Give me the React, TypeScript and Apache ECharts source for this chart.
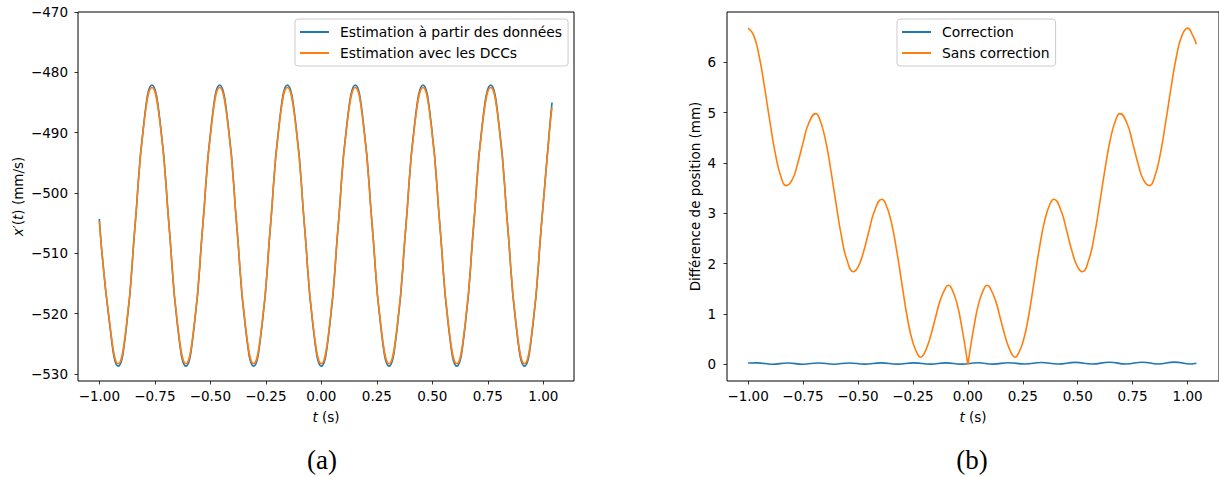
import React, { useEffect, useRef } from "react";
import * as echarts from "echarts";

// ---------- (a) velocity estimates ----------
const tA = [-1.0, -0.953, -0.915, -0.877, -0.839, -0.801, -0.763, -0.724, -0.686, -0.648, -0.610, -0.572, -0.534, -0.496, -0.458, -0.419, -0.381, -0.343, -0.305, -0.267, -0.229, -0.191, -0.153, -0.114, -0.076, -0.038, 0.0, 0.038, 0.076, 0.114, 0.153, 0.191, 0.229, 0.267, 0.305, 0.343, 0.381, 0.419, 0.458, 0.496, 0.534, 0.572, 0.610, 0.648, 0.686, 0.724, 0.763, 0.801, 0.839, 0.877, 0.915, 0.953, 0.991, 1.029, 1.039];
const estData = [-504.3, -521.9,
  -528.7, -521.9, -505.4, -488.9, -482.1, -488.9, -505.4, -521.9,
  -528.7, -521.9, -505.4, -488.9, -482.1, -488.9, -505.4, -521.9,
  -528.7, -521.9, -505.4, -488.9, -482.1, -488.9, -505.4, -521.9,
  -528.7, -521.9, -505.4, -488.9, -482.1, -488.9, -505.4, -521.9,
  -528.7, -521.9, -505.4, -488.9, -482.1, -488.9, -505.4, -521.9,
  -528.7, -521.9, -505.4, -488.9, -482.1, -488.9, -505.4, -521.9,
  -528.7, -521.9, -505.4, -488.9, -485.0];
const dccData = [-504.6, -521.6,
  -528.3, -521.6, -505.4, -489.2, -482.5, -489.2, -505.4, -521.6,
  -528.3, -521.6, -505.4, -489.2, -482.5, -489.2, -505.4, -521.6,
  -528.3, -521.6, -505.4, -489.2, -482.5, -489.2, -505.4, -521.6,
  -528.3, -521.6, -505.4, -489.2, -482.5, -489.2, -505.4, -521.6,
  -528.3, -521.6, -505.4, -489.2, -482.5, -489.2, -505.4, -521.6,
  -528.3, -521.6, -505.4, -489.2, -482.5, -489.2, -505.4, -521.6,
  -528.3, -521.6, -505.4, -489.2, -485.8];

// ---------- (b) position differences ----------
const tSans = [-1.0, -0.975, -0.95, -0.925, -0.9, -0.875, -0.85, -0.827, -0.8, -0.775, -0.75, -0.725, -0.692, -0.675, -0.65, -0.625, -0.6, -0.575, -0.55, -0.521, -0.5, -0.475, -0.45, -0.425, -0.391, -0.375, -0.35, -0.325, -0.3, -0.275, -0.25, -0.225, -0.216, -0.2, -0.175, -0.15, -0.125, -0.1, -0.088, -0.075, -0.05, -0.025, -0.0125, -0.005,
  0.0, 0.005, 0.0125, 0.025, 0.05, 0.075, 0.088, 0.1, 0.125, 0.15, 0.175, 0.2, 0.216, 0.225, 0.25, 0.275, 0.3, 0.325, 0.35, 0.375, 0.391, 0.425, 0.45, 0.475, 0.5, 0.521, 0.55, 0.575, 0.6, 0.625, 0.65, 0.675, 0.692, 0.725, 0.75, 0.775, 0.8, 0.827, 0.85, 0.875, 0.9, 0.925, 0.95, 0.975, 1.0, 1.025, 1.04];
const sansData = [6.68, 6.54, 6.13, 5.50, 4.80, 4.16, 3.72, 3.55, 3.66, 3.98, 4.40, 4.78, 4.98, 4.88, 4.50, 3.90, 3.20, 2.54, 2.07, 1.84, 1.93, 2.23, 2.65, 3.04, 3.28, 3.20, 2.86, 2.29, 1.60, 0.92, 0.43, 0.17, 0.14, 0.20, 0.48, 0.88, 1.28, 1.53, 1.57, 1.52, 1.22, 0.68, 0.35, 0.14,
  0.0, 0.14, 0.35, 0.68, 1.22, 1.52, 1.57, 1.53, 1.28, 0.88, 0.48, 0.20, 0.14, 0.17, 0.43, 0.92, 1.60, 2.29, 2.86, 3.20, 3.28, 3.04, 2.65, 2.23, 1.93, 1.84, 2.07, 2.54, 3.20, 3.90, 4.50, 4.88, 4.98, 4.78, 4.40, 3.98, 3.66, 3.55, 3.72, 4.16, 4.80, 5.50, 6.13, 6.54, 6.68, 6.52, 6.36];

const tCorr = [-1.0, -0.96, -0.89, -0.82, -0.75, -0.68, -0.61, -0.54, -0.47, -0.395, -0.32, -0.245, -0.17, -0.1, -0.03, 0.045, 0.115, 0.185, 0.26, 0.335, 0.41, 0.49, 0.565, 0.645, 0.72, 0.795, 0.865, 0.94, 1.015, 1.04];
const corrData = [0.025, 0.028, 0.002, 0.026, 0.002, 0.027, 0.002, 0.027, 0.003, 0.028, 0.003, 0.028, 0.003, 0.028, 0.004, 0.030, 0.004, 0.032, 0.005, 0.035, 0.005, 0.038, 0.006, 0.040, 0.006, 0.042, 0.006, 0.044, 0.006, 0.02];

const xTicks = [-1, -0.75, -0.5, -0.25, 0, 0.25, 0.5, 0.75, 1];
const yTicksA = [-530, -520, -510, -500, -490, -480, -470];
const yTicksB = [0, 1, 2, 3, 4, 5, 6];

const FONT = "DejaVu Sans";
const FS = 13.5;
const BLUE = "#1f77b4";
const ORANGE = "#ff7f0e";

const fmtX = (v: number) => (v < 0 ? "\u2212" : "") + Math.abs(v).toFixed(2);
const fmtY = (v: number) => (v < 0 ? "\u2212" : "") + String(Math.abs(v));

function makeX(gridIndex: number, min: number, max: number) {
  return {
    type: "value",
    gridIndex,
    min,
    max,
    axisLine: { show: false, onZero: false },
    splitLine: { show: false },
    axisTick: { show: true, customValues: xTicks, length: 3.5, lineStyle: { color: "#000", width: 0.8 } },
    axisLabel: { customValues: xTicks, formatter: fmtX, color: "#000", fontFamily: FONT, fontSize: FS, margin: 8 },
    name: "{i|t} (s)",
    nameLocation: "middle",
    nameGap: 29,
    nameTextStyle: {
      color: "#000", fontFamily: FONT, fontSize: FS,
      rich: { i: { fontStyle: "italic", fontFamily: FONT, fontSize: FS, color: "#000" } },
    },
  };
}

function makeY(gridIndex: number, min: number, max: number, ticks: number[], name: string, gap: number, margin: number) {
  return {
    type: "value",
    gridIndex,
    min,
    max,
    axisLine: { show: false, onZero: false },
    splitLine: { show: false },
    axisTick: { show: true, customValues: ticks, length: 3.5, lineStyle: { color: "#000", width: 0.8 } },
    axisLabel: { customValues: ticks, formatter: fmtY, color: "#000", fontFamily: FONT, fontSize: FS, margin },
    name,
    nameLocation: "middle",
    nameGap: gap,
    nameTextStyle: {
      color: "#000", fontFamily: FONT, fontSize: FS,
      rich: { i: { fontStyle: "italic", fontFamily: FONT, fontSize: FS, color: "#000" } },
    },
  };
}

function lineSeries(name: string, color: string, xi: number, xs: number[], ys: number[]) {
  return {
    type: "line",
    name,
    xAxisIndex: xi,
    yAxisIndex: xi,
    data: xs.map((t, i) => [t, ys[i]]),
    showSymbol: false,
    symbol: "none",
    smooth: 0.5,
    lineStyle: { color, width: 1.6 },
    itemStyle: { color },
    color,
  };
}

function legendCfg(left: number, names: string[]) {
  return {
    orient: "vertical",
    left,
    top: 19,
    data: names,
    icon: "rect",
    itemWidth: 29,
    itemHeight: 2,
    itemGap: 5,
    padding: [5, 6, 5, 5],
    backgroundColor: "rgba(255,255,255,0.8)",
    borderColor: "#cccccc",
    borderWidth: 1,
    borderRadius: 3,
    selectedMode: false,
    textStyle: { color: "#000", fontFamily: FONT, fontSize: 13.9, lineHeight: 16, padding: [0, 0, 0, 6] },
  };
}

export default function App() {
  const ref = useRef<HTMLDivElement>(null);
  useEffect(() => {
    if (!ref.current) return;
    const chart = echarts.init(ref.current, null, { renderer: "svg" });
    chart.setOption({
      animation: false,
      backgroundColor: "#ffffff",
      grid: [
        { left: 78, top: 12, width: 496, height: 369, show: true, borderColor: "#000", borderWidth: 1, containLabel: false },
        { left: 727, top: 12, width: 497, height: 369, show: true, borderColor: "#000", borderWidth: 1, containLabel: false },
      ],
      xAxis: [makeX(0, -1.096, 1.138), makeX(1, -1.096, 1.143)],
      yAxis: [
        makeY(0, -531.16, -470, yTicksA, "{i|x}\u2032({i|t}) (mm/s)", 53, 10),
        makeY(1, -0.332, 7.0, yTicksB, "Différence de position (mm)", 25, 11),
      ],
      legend: [
        legendCfg(295, ["Estimation à partir des données", "Estimation avec les DCCs"]),
        legendCfg(897, ["Correction", "Sans correction"]),
      ],
      series: [
        lineSeries("Estimation à partir des données", BLUE, 0, tA, estData),
        lineSeries("Estimation avec les DCCs", ORANGE, 0, tA, dccData),
        lineSeries("Correction", BLUE, 1, tCorr, corrData),
        lineSeries("Sans correction", ORANGE, 1, tSans, sansData),
      ],
      graphic: [
        { type: "text", x: 322, y: 460, style: { text: "(a)", fill: "#000", font: '27px "Liberation Serif"', align: "center", verticalAlign: "middle", textAlign: "center", textVerticalAlign: "middle" } },
        { type: "text", x: 972, y: 460, style: { text: "(b)", fill: "#000", font: '27px "Liberation Serif"', align: "center", verticalAlign: "middle", textAlign: "center", textVerticalAlign: "middle" } },
      ],
    });
    return () => chart.dispose();
  }, []);
  return <div ref={ref} style={{ position: "absolute", left: 0, top: 0, width: 1219, height: 477 }} />;
}
